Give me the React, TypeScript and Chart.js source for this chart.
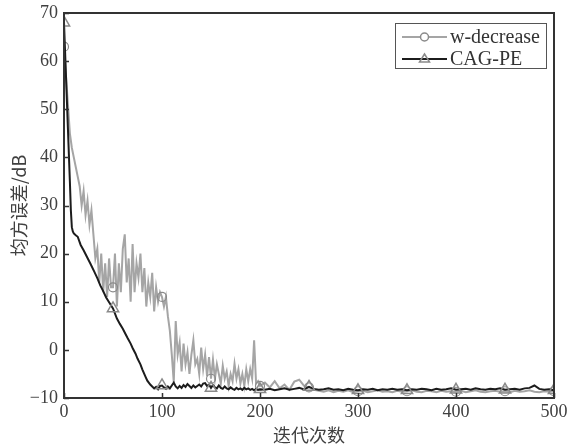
import { useEffect, useRef } from 'react';
import { Chart, registerables } from 'chart.js';

Chart.register(...registerables);

// ---------- data ----------
const seriesNames = ['w-decrease', 'CAG-PE'];
const xTickValues = [0, 100, 200, 300, 400, 500];
const yTickValues = [-10, 0, 10, 20, 30, 40, 50, 60, 70];
const xTitle = '迭代次数';
const yTitle = '均方误差/dB';

// w-decrease: iterations 0..200 (step 2)
const grayEarlyValues = [
  63, 57, 51, 45, 42, 40, 38, 36, 34, 30,
  33, 28, 31, 26, 29, 24, 19, 21, 14, 20,
  12, 18, 11, 19, 13, 13, 20, 9, 18, 12,
  21, 24, 14, 19, 10, 22, 12, 18, 15, 20,
  12, 17, 9, 14, 11, 16, 8, 13, 10, 12,
  11, 9, 11, 7, 4, -1, -6.7, 6, -1, 1.5,
  -4.5, 1.3, -3, -0.5, -5, -1, 2, -3, -1.9, -5,
  0.5, -4, -1, -5.5, -1.5, -6, -2, -6, -3, -5,
  -7, -3.3, -6, -4.5, -7.5, -5, -6.5, -2.9, -6, -4,
  -7, -5, -7.5, -4, -6.5, -4, -6, 2, -7, -6.5,
  -7.5,
];
// w-decrease: iterations 205..500 (step 5)
const grayLateValues = [
  -6.8, -7.8, -6.5, -8.0, -7.2, -8.3, -6.6, -6.2, -7.5, -7.8,
  -8.3, -8.5, -8.7, -8.4, -8.8, -8.5, -8.7, -8.4, -8.8, -8.6,
  -8.5, -8.8, -8.6, -8.4, -8.7, -8.6, -8.8, -8.5, -8.7, -8.6,
  -8.4, -8.7, -8.8, -8.5, -8.6, -8.8, -8.5, -8.7, -8.6, -8.7,
  -8.5, -8.8, -8.6, -8.4, -8.7, -8.8, -8.6, -8.5, -8.7, -8.6,
  -8.8, -8.5, -8.7, -8.6, -8.4, -8.7, -8.8, -8.6, -8.7, -8.6,
];

// CAG-PE: early iterations (uneven)
const blackEarlyIters = [
  0, 2, 4, 6, 7, 8, 9, 10, 12, 14,
  17, 20, 24, 27, 31, 34, 37, 40, 43, 46,
  50, 54, 57, 60, 63, 65, 68, 70, 73, 75,
  78, 80, 83, 85, 88,
];
const blackEarlyValues = [
  68, 57, 46, 35, 29, 25.5, 24.6, 24.2, 23.8, 23.5,
  21.8, 20.7, 19.1, 17.9, 16.2, 14.9, 13.4, 12.2, 10.9, 9.9,
  8.6, 6.5, 5.4, 4.4, 3.2, 2.4, 1.3, 0.4, -0.8, -1.8,
  -3.0, -4.1, -5.5, -6.4, -7.2,
];
// CAG-PE: iterations 90..200 (step 2)
const blackMidValues = [
  -7.6, -8.0, -7.7, -8.2, -7.5, -7.4, -7.8, -8.1, -7.6, -8.0,
  -7.4, -6.8, -7.6, -8.0, -7.5, -7.9, -7.3, -7.7, -7.1, -7.5,
  -7.9, -7.4, -7.8, -7.5, -7.2, -7.6, -7.0, -6.9, -7.5, -7.2,
  -7.9, -7.3, -7.8, -8.0, -7.4, -7.9, -8.1, -7.6, -8.0, -8.2,
  -7.8, -8.1, -8.3, -7.9, -8.2, -8.0, -8.3, -7.9, -8.2, -8.0,
  -8.3, -8.1, -8.4, -8.1, -8.3, -8.2,
];
// CAG-PE: iterations 205..500 (step 5)
const blackLateValues = [
  -8.3, -8.1, -8.4, -8.2, -8.0, -8.3, -8.1, -7.9, -8.2, -7.7,
  -8.1, -8.3, -8.2, -8.0, -8.3, -8.2, -8.4, -8.1, -8.3, -8.4,
  -8.2, -8.3, -8.1, -8.4, -8.2, -8.3, -8.1, -8.3, -8.2, -8.4,
  -8.2, -8.3, -8.1, -8.2, -8.4, -8.1, -8.3, -8.2, -8.0, -8.3,
  -8.2, -8.1, -8.3, -8.0, -8.2, -8.3, -8.1, -8.2, -8.0, -8.3,
  -8.2, -8.1, -8.3, -8.0, -7.9, -7.4, -8.1, -8.3, -8.2, -8.4,
];

// ---------- assembling points ----------
type P = { x: number; y: number };
const grayPoints: P[] = [
  ...grayEarlyValues.map((y, i) => ({ x: i * 2, y })),
  ...grayLateValues.map((y, i) => ({ x: 205 + i * 5, y })),
];
const blackPoints: P[] = [
  ...blackEarlyValues.map((y, i) => ({ x: blackEarlyIters[i], y })),
  ...blackMidValues.map((y, i) => ({ x: 90 + i * 2, y })),
  ...blackLateValues.map((y, i) => ({ x: 205 + i * 5, y })),
];

// ---------- styles ----------
const GRAY = '#a5a5a5';
const BLACK = '#1c1c1c';
const MARK = '#8a8a8a';
const TEXT = '#404040';
const FRAME = '#333333';
const SERIF = '"Liberation Serif", "Times New Roman", serif';
const CJK = '"Noto Sans CJK SC", sans-serif';

const markerRadius = (r: number) => (ctx: any) => {
  const raw = ctx.raw as P | undefined;
  return raw && raw.x % 50 === 0 ? r : 0;
};

const framePlugin = {
  id: 'frameAndLegend',
  afterDraw(chart: any) {
    const { ctx, chartArea: a, scales } = chart;
    ctx.save();
    // inward ticks
    ctx.strokeStyle = FRAME;
    ctx.lineWidth = 1.5;
    ctx.beginPath();
    for (const v of yTickValues) {
      const y = Math.round(scales.y.getPixelForValue(v)) + 0.5;
      ctx.moveTo(a.left, y);
      ctx.lineTo(a.left + 5, y);
    }
    for (const v of xTickValues) {
      const x = Math.round(scales.x.getPixelForValue(v)) + 0.5;
      ctx.moveTo(x, a.bottom);
      ctx.lineTo(x, a.bottom - 5);
    }
    ctx.stroke();
    // frame
    ctx.lineWidth = 2;
    ctx.strokeRect(a.left, a.top, a.right - a.left, a.bottom - a.top);

    // legend
    const bx = a.right - 159;
    const by = a.top + 10;
    const bw = 151;
    const bh = 45;
    ctx.lineWidth = 1;
    ctx.strokeStyle = '#555';
    ctx.fillStyle = '#fff';
    ctx.fillRect(bx, by, bw, bh);
    ctx.strokeRect(bx + 0.5, by + 0.5, bw, bh);
    const rows = [
      { name: seriesNames[0], color: GRAY, style: 'circle' },
      { name: seriesNames[1], color: BLACK, style: 'triangle' },
    ];
    rows.forEach((r, i) => {
      const cy = by + 14 + i * 22;
      const x0 = bx + 7;
      const x1 = bx + 52;
      const mx = (x0 + x1) / 2;
      ctx.strokeStyle = r.color;
      ctx.lineWidth = 2;
      ctx.beginPath();
      ctx.moveTo(x0, cy);
      ctx.lineTo(x1, cy);
      ctx.stroke();
      ctx.strokeStyle = MARK;
      ctx.lineWidth = 1.5;
      ctx.beginPath();
      if (r.style === 'circle') {
        ctx.fillStyle = '#fff';
        ctx.arc(mx, cy, 4, 0, Math.PI * 2);
        ctx.fill();
      } else {
        ctx.moveTo(mx, cy - 5);
        ctx.lineTo(mx + 5, cy + 3);
        ctx.lineTo(mx - 5, cy + 3);
        ctx.closePath();
      }
      ctx.stroke();
      ctx.fillStyle = '#333';
      ctx.font = `20px ${SERIF}`;
      ctx.textBaseline = 'middle';
      ctx.textAlign = 'left';
      ctx.fillText(r.name, x1 + 3, cy + 1);
    });
    ctx.restore();
  },
};

export default function App() {
  const ref = useRef<HTMLCanvasElement | null>(null);

  useEffect(() => {
    const canvas = ref.current;
    if (!canvas) return;
    const chart = new Chart(canvas, {
      type: 'line',
      data: {
        datasets: [
          {
            label: seriesNames[1],
            data: blackPoints,
            borderColor: BLACK,
            borderWidth: 2,
            tension: 0,
            pointStyle: 'triangle',
            pointRadius: markerRadius(6.5),
            pointBorderColor: MARK,
            pointBackgroundColor: 'rgba(0,0,0,0)',
            pointBorderWidth: 1.5,
          },
          {
            label: seriesNames[0],
            data: grayPoints,
            borderColor: GRAY,
            borderWidth: 2,
            tension: 0,
            pointStyle: 'circle',
            pointRadius: markerRadius(4.5),
            pointBorderColor: MARK,
            pointBackgroundColor: 'rgba(0,0,0,0)',
            pointBorderWidth: 1.2,
          },
        ],
      },
      options: {
        animation: false,
        responsive: false,
        devicePixelRatio: 1,
        parsing: false,
        normalized: true,
        layout: { padding: { top: 13, right: 22, left: 0, bottom: 0 } },
        plugins: {
          legend: { display: false },
          tooltip: { enabled: false },
        },
        scales: {
          x: {
            type: 'linear',
            min: 0,
            max: 500,
            afterBuildTicks: (s: any) => {
              s.ticks = xTickValues.map((v) => ({ value: v }));
            },
            afterFit: (s: any) => {
              s.height = 49;
              s.paddingLeft = 0;
              s.paddingRight = 0;
            },
            grid: { display: false, drawTicks: false },
            border: { display: false },
            ticks: {
              color: TEXT,
              font: { family: SERIF, size: 18 },
              padding: 3,
              maxRotation: 0,
            },
            title: {
              display: true,
              text: xTitle,
              color: TEXT,
              font: { family: CJK, size: 18 },
              padding: { top: 0, bottom: 1 },
            },
          },
          y: {
            type: 'linear',
            min: -10,
            max: 70,
            afterBuildTicks: (s: any) => {
              s.ticks = yTickValues.map((v) => ({ value: v }));
            },
            afterFit: (s: any) => {
              s.width = 64;
              s.paddingTop = 0;
              s.paddingBottom = 0;
            },
            grid: { display: false, drawTicks: false },
            border: { display: false },
            ticks: {
              color: TEXT,
              font: { family: SERIF, size: 18 },
              padding: 6,
              callback: (v: any) => String(v).replace('-', '\u2212'),
            },
            title: {
              display: true,
              text: yTitle,
              color: TEXT,
              font: { family: CJK, size: 18 },
              padding: { top: 8, bottom: 0 },
            },
          },
        },
      },
      plugins: [framePlugin],
    });
    return () => chart.destroy();
  }, []);

  return (
    <div
      style={{
        position: 'fixed',
        left: 0,
        top: 0,
        width: 576,
        height: 447,
        background: '#fff',
      }}
    >
      <canvas ref={ref} width={576} height={447} style={{ display: 'block' }} />
    </div>
  );
}
